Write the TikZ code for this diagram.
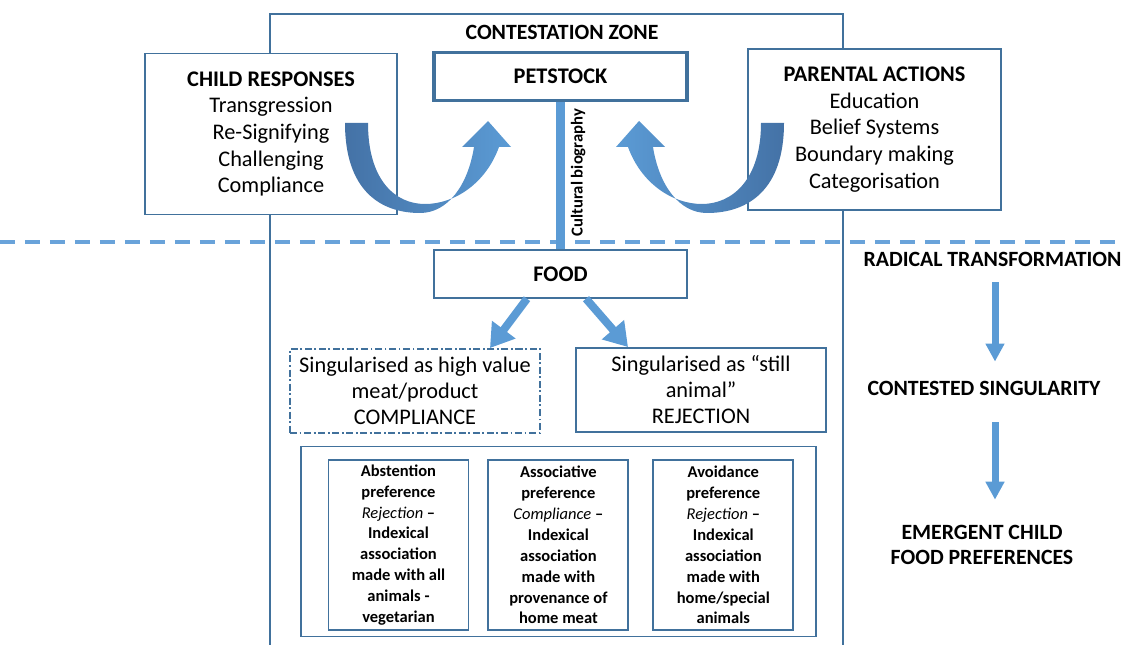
\documentclass[tikz,border=0pt]{standalone}
\usepackage{fontspec}
\setmainfont{Carlito}
\usetikzlibrary{arrows.meta, positioning}

\definecolor{boxline}{RGB}{65,113,156}
\definecolor{arrowblue}{RGB}{91,155,213}
\definecolor{arrowdark}{RGB}{68,114,166}
\definecolor{dashblue}{RGB}{105,163,218}

\begin{document}
\begin{tikzpicture}[
    x=0.02cm, y=-0.02cm,
    node distance=0.42cm and 0.42cm,
    box/.style={rectangle, draw=boxline, line width=1.1pt, fill=white, align=center, font=\fontsize{12.7}{15.2}\selectfont},
    headbox/.style={box, minimum width=5.06cm, minimum height=0.95cm, font=\fontsize{12.7}{15.2}\selectfont\bfseries},
    listbox/.style={box, minimum width=5.05cm, minimum height=3.22cm},
    singbox/.style={box, minimum width=5.0cm, minimum height=1.68cm, font=\fontsize{12.7}{14.8}\selectfont},
    prefbox/.style={box, minimum width=2.8cm, minimum height=3.4cm, inner sep=1pt, font=\fontsize{9.4}{11.9}\selectfont\bfseries},
    stage/.style={align=center, font=\fontsize{12.4}{14.7}\selectfont\bfseries},
    arrow/.style={-{Triangle[width=0.56cm, length=0.46cm]}, line width=0.16cm, arrowblue},
    downarrow/.style={-{Triangle[width=0.36cm, length=0.36cm]}, line width=0.14cm, arrowblue},
]
\useasboundingbox (0,0) rectangle (1127,645);

% Contestation zone
\draw[boxline, line width=1.1pt] (270,645) |- (843,14) -- (843,645);
\node[stage] (zone) at (562,32) {CONTESTATION ZONE};

% Dividing line
\coordinate (divL) at (0,242);
\coordinate (divR) at (1115,242);
\draw[dashblue, line width=2.2pt, dash pattern=on 0.3cm off 0.2cm] (divL) -- (divR);

% Nodes
\node[headbox, line width=1.8pt] (pet) at (560.5,76.5) {PETSTOCK};
\node[headbox] (food) at (560.5,274) {FOOD};
\node[listbox] (child) at (271,134) {\textbf{CHILD RESPONSES}\\Transgression\\Re-Signifying\\Challenging\\Compliance};
\node[listbox] (parent) at (874.5,129.5) {\textbf{PARENTAL ACTIONS}\\Education\\Belief Systems\\Boundary making\\Categorisation};

\node[singbox, dash pattern=on 4pt off 1.5pt on 1pt off 1.5pt] (high) at (415,391) {Singularised as high value\\meat/product\\COMPLIANCE};
\node[singbox] (still) at (701,390) {Singularised as “still\\animal”\\REJECTION};

% Preference boxes
\node[box, minimum width=10.3cm, minimum height=3.8cm] (prefs) at (558.5,541.5) {};
\node[prefbox] (abst) at (398.5,545) {Abstention\\preference\\{\mdseries\itshape Rejection} –\\Indexical\\association\\made with all\\animals -\\vegetarian};
\node[prefbox, right=0.36cm of abst] (assoc) {Associative\\preference\\{\mdseries\itshape Compliance} –\\Indexical\\association\\made with\\provenance of\\home meat};
\node[prefbox, right=0.46cm of assoc] (avoid) {Avoidance\\preference\\{\mdseries\itshape Rejection} –\\Indexical\\association\\made with\\home/special\\animals};

% Stages
\node[stage] (radical) at (992.5,259) {RADICAL TRANSFORMATION};
\node[stage] (contested) at (984,388) {CONTESTED SINGULARITY};
\node[stage] (emergent) at (982,545) {EMERGENT CHILD\\FOOD PREFERENCES};
\coordinate (rcol) at ([xshift=0.05cm]radical.south);

% Arrows
\draw[arrowblue, line width=0.18cm] (pet) -- (food)
    node[pos=0.48, rotate=90, anchor=north, text=black, font=\fontsize{9.5}{11}\selectfont\bfseries] (bio) {Cultural biography};
\draw[arrow] ([xshift=-0.67cm]food.south) -- ([xshift=1.5cm]high.north);
\draw[arrow] ([xshift=0.51cm]food.south) -- ([xshift=-1.46cm]still.north);
\draw[downarrow, shorten <=0.2cm, shorten >=0.26cm] (rcol) -- (rcol |- contested.north);
\draw[downarrow, shorten <=0.42cm, shorten >=0.38cm] (rcol |- contested.south) -- (rcol |- emergent.north);

% Curved arrows
\shade[left color=arrowdark, right color=arrowblue] (345,123) .. controls (345,190) and (380,213) .. (420,213) .. controls (448,213) and (468,185) .. (474,147) -- (462,147) -- (488,121) -- (511,147) -- (499,147) .. controls (486,183) and (455,204) .. (425,204) .. controls (395,204) and (368,180) .. (368,123) -- cycle;
\shade[left color=arrowblue, right color=arrowdark] (784,123) .. controls (784,190) and (748,213) .. (707,213) .. controls (679,213) and (659,185) .. (653,147) -- (665,147) -- (639,121) -- (616,147) -- (628,147) .. controls (641,183) and (672,204) .. (702,204) .. controls (732,204) and (761,180) .. (761,123) -- cycle;

\end{tikzpicture}
\end{document}
